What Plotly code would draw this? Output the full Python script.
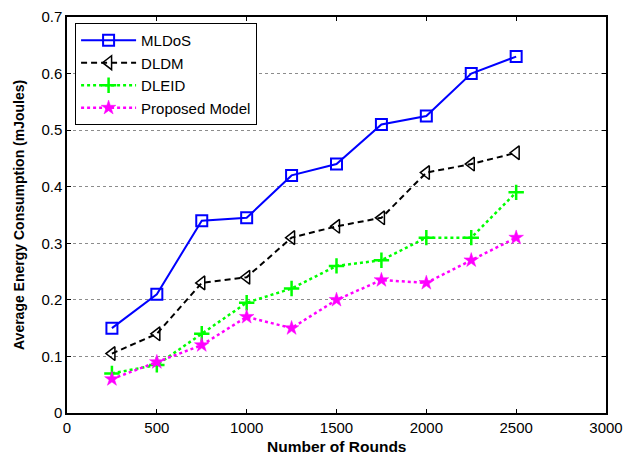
import plotly.graph_objects as go

rounds = [250, 500, 750, 1000, 1250, 1500, 1750, 2000, 2250, 2500]
mldos = [0.15, 0.21, 0.34, 0.345, 0.42, 0.44, 0.51, 0.525, 0.60, 0.63]
dldm = [0.105, 0.14, 0.23, 0.24, 0.31, 0.33, 0.345, 0.425, 0.44, 0.46]
dleid = [0.07, 0.085, 0.14, 0.195, 0.22, 0.26, 0.27, 0.31, 0.31, 0.39]
proposed = [0.06, 0.09, 0.12, 0.17, 0.15, 0.20, 0.235, 0.23, 0.27, 0.31]

x_ticks = [0, 500, 1000, 1500, 2000, 2500, 3000]
y_ticks = [0, 0.1, 0.2, 0.3, 0.4, 0.5, 0.6, 0.7]

FONT = "Liberation Sans, Arial"

fig = go.Figure()
fig.add_trace(go.Scatter(x=rounds, y=mldos, name="MLDoS", mode="lines+markers",
                         line=dict(color="#0000ff", width=2, dash="solid"),
                         marker=dict(symbol="square-open", size=11, color="#0000ff", line=dict(width=2))))
fig.add_trace(go.Scatter(x=rounds, y=dldm, name="DLDM", mode="lines+markers",
                         line=dict(color="#000000", width=2, dash="6px,4px"),
                         marker=dict(symbol="triangle-left-open", size=12, color="#000000", line=dict(width=1.5))))
fig.add_trace(go.Scatter(x=rounds, y=dleid, name="DLEID", mode="lines+markers",
                         line=dict(color="#00ff00", width=2.5, dash="dot"),
                         marker=dict(symbol="cross-thin-open", size=11, color="#00ff00", line=dict(width=2.5, color="#00ff00"))))
fig.add_trace(go.Scatter(x=rounds, y=proposed, name="Proposed Model", mode="lines+markers",
                         line=dict(color="#ff00ff", width=2.5, dash="dot"),
                         marker=dict(symbol="star", size=11, color="#ff00ff", line=dict(width=0.5, color="#ff00ff"))))

axis_common = dict(showline=True, linecolor="black", linewidth=1.5, mirror="ticks",
                   ticks="inside", ticklen=4, tickcolor="black",
                   tickfont=dict(family=FONT, size=15, color="black"),
                   zeroline=False, automargin=False)

fig.update_xaxes(range=[0, 3000], tickvals=x_ticks, showgrid=False, **axis_common)
fig.update_yaxes(range=[0, 0.7], tickvals=y_ticks, ticktext=[str(v) for v in y_ticks],
                 showgrid=True, gridcolor="#8c8c8c", griddash="dot", gridwidth=1,
                 **axis_common)

fig.add_annotation(text="<b>Number of Rounds</b>", xref="paper", yref="paper", x=0.5, y=0,
                   xanchor="center", yanchor="middle", yshift=-33, showarrow=False,
                   font=dict(family=FONT, size=15.5, color="black"))
fig.add_annotation(text="<b>Average Energy Consumption (mJoules)</b>", xref="paper", yref="paper",
                   x=0, y=0.5, xanchor="center", yanchor="middle", xshift=-48, textangle=-90,
                   showarrow=False, font=dict(family=FONT, size=14, color="black"))

fig.update_layout(
    width=626, height=454,
    margin=dict(l=67, r=20, t=17, b=41),
    plot_bgcolor="white", paper_bgcolor="white",
    legend=dict(x=0.015, y=0.985, xanchor="left", yanchor="top",
                bgcolor="white", bordercolor="black", borderwidth=1,
                font=dict(family=FONT, size=15, color="black"),
                tracegroupgap=0, itemwidth=55),
    showlegend=True,
)

fig.write_html("out.html", config={"displayModeBar": False},
               post_script="document.body.style.margin='0';document.body.style.overflow='hidden';")
